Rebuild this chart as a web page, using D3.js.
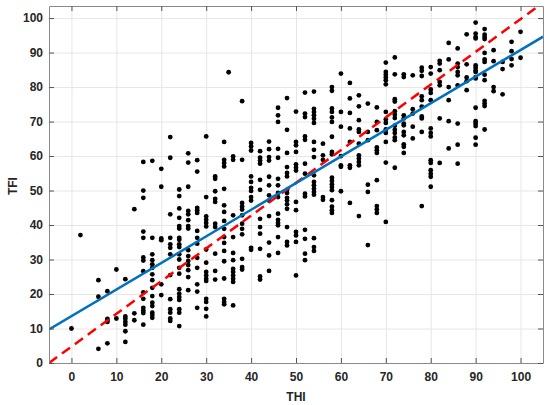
<!DOCTYPE html>
<html>
<head>
<meta charset="utf-8">
<script src="https://cdn.jsdelivr.net/npm/d3@7"></script>
<style>
  body { margin: 0; background: #fff; }
  svg { display: block; font-family: "Liberation Sans", Arial, sans-serif; }
  .axis text { font-size: 12px; font-weight: bold; fill: #262626; }
  .axis .domain { stroke: #8a8a8a; }
  .axis line { stroke: #555; }
  .grid line { stroke: #e6e6e6; }
  .grid .domain { display: none; }
</style>
</head>
<body>
<svg id="chart" width="550" height="405"></svg>
<script>
// THI score columns and the TFI values found in each column
var thiColumns = [0, 2, 6, 8, 10, 12, 14, 16, 18, 20, 22, 24, 26, 28, 30, 32, 34, 35, 36, 38,
  40, 42, 44, 46, 48, 50, 52, 54, 56, 58, 60, 62, 64, 66, 68, 70, 72, 74, 76, 78,
  80, 82, 84, 86, 88, 90, 92, 94, 96, 98, 100];

var tfiByColumn = [
  [10.0],
  [37.1],
  [24.0, 19.2, 4.1],
  [20.8, 12.8, 12.3, 11.9, 5.7],
  [27.1, 12.9],
  [24.3, 13.5, 12.8, 11.9, 11.1, 9.2, 6.1],
  [44.6, 14.4, 12.4],
  [58.3, 50.0, 47.9, 38.1, 36.3, 30.6, 29.7, 26.6, 20.5, 18.6, 16.0, 15.2, 14.5, 11.1],
  [58.6, 36.3, 31.5, 29.8, 28.6, 27.6, 25.7, 24.0, 21.8, 19.4, 17.5, 16.5, 14.6, 13.9, 13.1],
  [56.3, 51.1, 36.1, 35.6, 22.8, 19.7],
  [65.5, 59.5, 43.1, 36.3, 34.4, 33.4, 31.5, 25.5, 18.5, 15.6, 14.6, 12.9, 12.2],
  [50.3, 48.4, 44.8, 42.1, 39.7, 39.0, 36.3, 35.7, 34.4, 33.6, 31.5, 30.0, 27.6, 25.9, 21.4, 20.1, 19.1, 18.3, 15.6, 14.6, 10.7],
  [60.8, 58.1, 51.1, 44.1, 43.1, 41.4, 39.7, 39.0, 32.7, 31.0, 29.6, 28.4, 26.9, 24.9, 21.1],
  [58.8, 55.5, 45.0, 44.3, 43.5, 38.3, 36.3, 34.6, 30.5, 27.6, 22.8, 20.7, 16.0],
  [65.7, 48.1, 42.5, 41.5, 40.6, 39.6, 32.9, 29.1, 26.4, 25.4, 24.4, 23.8, 18.6, 17.7, 15.7, 13.5],
  [54.1, 53.4, 49.8, 47.6, 46.7, 40.4, 39.4, 31.7, 26.7, 24.2],
  [64.1, 58.9, 58.0, 57.0, 50.5, 45.7, 43.8, 41.2, 38.9, 36.5, 34.8, 32.5, 29.5, 24.5, 18.6, 17.7, 17.0],
  [84.3],
  [59.9, 58.9, 42.8, 36.5, 31.9, 29.8, 27.3, 26.4, 25.4, 24.4, 23.5, 16.7],
  [75.9, 58.9, 46.4, 45.4, 44.5, 42.8, 40.4, 38.9, 37.3, 30.2, 27.8, 27.1],
  [63.8, 62.8, 61.6, 54.1, 52.5, 50.8, 49.9, 48.1, 47.1, 33.4, 32.8],
  [61.4, 59.5, 58.7, 57.8, 53.1, 50.2, 41.8, 39.4, 37.5, 33.1, 25.1, 24.2],
  [64.2, 62.0, 59.7, 58.7, 54.0, 51.5, 48.6, 47.1, 42.6, 34.9, 31.2, 26.7],
  [74.0, 71.8, 69.9, 62.1, 59.5, 53.4, 51.5, 49.3, 48.1, 43.3, 41.5, 40.6, 39.9, 36.5, 31.9],
  [76.8, 67.6, 60.9, 56.8, 55.1, 54.1, 50.2, 49.3, 47.9, 47.1, 46.0, 44.7, 39.4, 35.1, 34.1],
  [72.9, 64.1, 63.1, 61.2, 57.6, 56.6, 55.8, 46.7, 44.3, 38.0, 37.0, 35.1, 25.4],
  [78.4, 72.3, 71.3, 65.7, 64.7, 57.8, 54.9, 49.1, 48.3, 38.6, 36.0, 31.7, 29.8],
  [78.7, 73.7, 72.8, 71.8, 70.8, 69.6, 64.1, 61.8, 59.7, 54.4, 52.5, 51.5, 50.5, 49.6, 48.8, 36.2, 33.6, 32.5],
  [63.6, 60.2, 58.9, 48.1, 47.3],
  [80.0, 78.9, 73.8, 72.8, 71.2, 69.9, 65.6, 61.2, 60.5, 53.7, 52.8, 51.8, 51.0, 50.1, 47.2, 45.3, 44.3, 43.5],
  [83.9, 72.8, 68.5, 60.0, 57.3, 56.9, 49.8],
  [81.2, 76.7, 72.5, 68.0, 64.1, 57.3, 56.6, 46.4],
  [77.6, 74.4, 70.4, 67.7, 67.0, 63.6, 60.2, 59.3, 58.3, 57.3, 42.6],
  [75.2, 67.0, 64.6, 51.7, 49.6, 34.2],
  [74.1, 69.9, 67.5, 62.5, 61.7, 60.9, 53.0, 45.5, 44.5, 43.5],
  [87.1, 84.4, 83.6, 82.8, 82.0, 80.8, 72.8, 70.6, 69.6, 67.7, 66.7, 64.1, 58.1, 40.9],
  [88.6, 83.7, 76.5, 75.8, 73.0, 72.0, 71.0, 68.8, 67.6, 66.7, 65.4, 64.6, 56.6],
  [83.7, 82.9, 71.8, 70.9, 69.4, 68.9, 67.0, 66.0, 63.4, 62.7, 60.9],
  [83.4, 73.6, 72.3, 68.5, 65.1],
  [85.6, 84.7, 83.2, 77.3, 76.2, 74.3, 71.5, 70.9, 67.0, 45.5],
  [85.8, 83.9, 79.3, 78.3, 76.2, 68.0, 66.7, 65.7, 58.8, 58.0, 55.9, 54.9, 54.0, 51.1],
  [87.6, 86.8, 84.9, 81.5, 80.5, 70.9, 58.0],
  [92.8, 88.0, 80.0, 76.2, 70.1, 62.2],
  [91.2, 86.8, 85.8, 84.4, 83.4, 80.5, 69.4, 63.3, 57.8],
  [95.3, 86.6, 82.8, 81.7, 79.1],
  [98.7, 95.5, 94.5, 94.1, 86.3, 85.6, 84.8, 84.4, 82.9, 82.5, 74.0, 70.1, 69.4, 68.7, 65.3, 63.3],
  [96.8, 95.2, 94.5, 93.9, 89.9, 88.0, 87.3, 83.6, 82.0, 76.0, 75.2, 74.5, 67.7],
  [90.7, 87.5, 80.0, 78.8],
  [87.3, 85.2, 77.9],
  [93.1, 90.4, 88.1, 86.3],
  [96.0, 88.5]
];

// fitted regression line and the reference dashed line (end points, in data units)
var fitLineX = [-5, 105];
var fitLineY = [9.7, 94.6];
var refLineX = [-5, 104];
var refLineY = [0, 103.5];

var xTicks = [0, 10, 20, 30, 40, 50, 60, 70, 80, 90, 100];
var yTicks = [0, 10, 20, 30, 40, 50, 60, 70, 80, 90, 100];
var xDomain = [-5, 105];
var yDomain = [0, 103.5];

var margin = {top: 6, right: 7, bottom: 42, left: 49};
var svg = d3.select('#chart');
var width = +svg.attr('width') - margin.left - margin.right;
var height = +svg.attr('height') - margin.top - margin.bottom;

var x = d3.scaleLinear().domain(xDomain).range([0, width]);
var y = d3.scaleLinear().domain(yDomain).range([height, 0]);

var g = svg.append('g')
  .attr('transform', 'translate(' + margin.left + ',' + margin.top + ')');

svg.append('defs').append('clipPath').attr('id', 'plotClip')
  .append('rect').attr('width', width).attr('height', height);

// grid
g.append('g').attr('class', 'grid')
  .attr('transform', 'translate(0,' + height + ')')
  .call(d3.axisBottom(x).tickValues(xTicks).tickSize(-height).tickFormat(''));
g.append('g').attr('class', 'grid')
  .call(d3.axisLeft(y).tickValues(yTicks).tickSize(-width).tickFormat(''));

var points = [];
thiColumns.forEach(function(thi, i) {
  tfiByColumn[i].forEach(function(tfi) {
    points.push({thi: thi, tfi: tfi});
  });
});

g.append('g').selectAll('circle')
  .data(points)
  .enter()
  .append('circle')
  .attr('cx', function(d) { return x(d.thi); })
  .attr('cy', function(d) { return y(d.tfi); })
  .attr('r', 2.4)
  .attr('fill', '#000');

var line = d3.line()
  .x(function(d) { return x(d[0]); })
  .y(function(d) { return y(d[1]); });

var lines = g.append('g').attr('clip-path', 'url(#plotClip)');
lines.append('path')
  .datum(d3.zip(refLineX, refLineY))
  .attr('d', line)
  .attr('fill', 'none')
  .attr('stroke', '#ff0000')
  .attr('stroke-width', 2.5)
  .attr('stroke-dasharray', '10,6');
lines.append('path')
  .datum(d3.zip(fitLineX, fitLineY))
  .attr('d', line)
  .attr('fill', 'none')
  .attr('stroke', '#0072bd')
  .attr('stroke-width', 2.5);

// box with inward ticks
g.append('g').attr('class', 'axis')
  .attr('transform', 'translate(0,' + height + ')')
  .call(d3.axisBottom(x).tickValues(xTicks).tickSizeInner(-5).tickSizeOuter(0).tickPadding(9));
g.append('g').attr('class', 'axis')
  .call(d3.axisLeft(y).tickValues(yTicks).tickSizeInner(-5).tickSizeOuter(0).tickPadding(6));
g.append('g').attr('class', 'axis')
  .call(d3.axisTop(x).tickValues(xTicks).tickSizeInner(-5).tickSizeOuter(0).tickFormat(''));
g.append('g').attr('class', 'axis')
  .attr('transform', 'translate(' + width + ',0)')
  .call(d3.axisRight(y).tickValues(yTicks).tickSizeInner(-5).tickSizeOuter(0).tickFormat(''));

svg.append('text')
  .attr('x', margin.left + x(50))
  .attr('y', 401)
  .attr('text-anchor', 'middle')
  .style('font-size', '12px')
  .style('font-weight', 'bold')
  .style('fill', '#262626')
  .text('THI');

svg.append('text')
  .attr('transform', 'translate(17,' + (margin.top + y(51.3)) + ') rotate(-90)')
  .attr('text-anchor', 'middle')
  .style('font-size', '12px')
  .style('font-weight', 'bold')
  .style('fill', '#262626')
  .text('TFI');
</script>
</body>
</html>
